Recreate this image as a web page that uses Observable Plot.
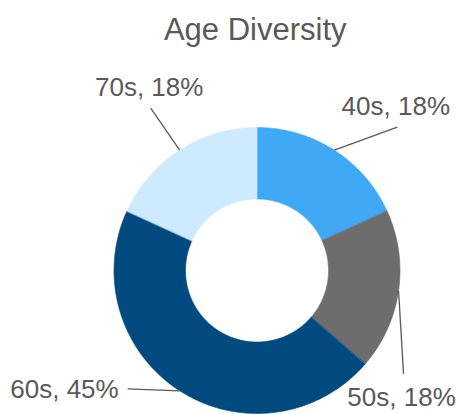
<!DOCTYPE html>
<html><head><meta charset="utf-8">
<script src="https://cdn.jsdelivr.net/npm/d3@7"></script>
<script src="https://cdn.jsdelivr.net/npm/@observablehq/plot@0.6"></script>
<style>html,body{margin:0;padding:0;background:#fff} svg{display:block}</style>
</head><body><div id="chart"></div>
<script>
// ---- data ----
const categories = ["40s", "50s", "60s", "70s"];
const counts = [2, 2, 5, 2];
const percentLabels = ["18%", "18%", "45%", "18%"];
const titleText = "Age Diversity";

// ---- styles / layout ----
const sliceColors = ["#3fa9f5", "#6d6d6d", "#004a80", "#cdeaff"];
const textColor = "#595959";
const W = 456, H = 414, cx = 256.5, cy = 270, R = 143, r0 = 71.5;
// leader line vector from slice mid-point on the outer rim, and label side
const leaderLayout = {
  "40s": {dx: 63, dy: -23, side: "top"},
  "50s": {dx: 5, dy: 83, side: "bottom"},
  "60s": {dx: -52, dy: -2, side: "left"},
  "70s": {dx: -29, dy: -42, side: "top"}
};

const arcs = d3.pie().sort(null).value(d => d)(counts);
const ring = [];
arcs.forEach((p, i) => {
  const n = 120;
  for (let k = 0; k <= n; k++) {
    const a = p.startAngle + (p.endAngle - p.startAngle) * k / n;
    ring.push({cat: categories[i], x: cx + R * Math.sin(a), y: cy - R * Math.cos(a)});
  }
  for (let k = n; k >= 0; k--) {
    const a = p.startAngle + (p.endAngle - p.startAngle) * k / n;
    ring.push({cat: categories[i], x: cx + r0 * Math.sin(a), y: cy - r0 * Math.cos(a)});
  }
});

const labels = arcs.map((p, i) => {
  const m = (p.startAngle + p.endAngle) / 2;
  const L = leaderLayout[categories[i]];
  const x1 = cx + R * Math.sin(m), y1 = cy - R * Math.cos(m);
  const x2 = x1 + L.dx, y2 = y1 + L.dy;
  let tx = x2, ty = y2;
  if (L.side === "top") { tx = x2 - 1.5; ty = y2 - 20.8; }
  else if (L.side === "bottom") { tx = x2 - 2; ty = y2 + 23.7; }
  else { tx = x2 - 9; ty = y2 + 0.7; }
  return {cat: categories[i], text: `${categories[i]}, ${percentLabels[i]}`, side: L.side, x1, y1, x2, y2, tx, ty};
});

const chart = Plot.plot({
  width: W, height: H, margin: 0,
  x: {type: "identity", axis: null},
  y: {type: "identity", axis: null},
  color: {domain: categories, range: sliceColors},
  style: {fontFamily: "'Liberation Sans', Arial, sans-serif", background: "white"},
  marks: [
    Plot.line(ring, {x: "x", y: "y", z: "cat", fill: "cat", stroke: "cat", strokeWidth: 0.6, curve: "linear-closed"}),
    Plot.link(labels, {x1: "x1", y1: "y1", x2: "x2", y2: "y2", stroke: textColor, strokeWidth: 1.3}),
    Plot.text(labels.filter(d => d.side !== "left"), {x: "tx", y: "ty", text: "text", fontSize: 26, fill: textColor, textAnchor: "middle"}),
    Plot.text(labels.filter(d => d.side === "left"), {x: "tx", y: "ty", text: "text", fontSize: 26, fill: textColor, textAnchor: "end"}),
    Plot.text([titleText], {frameAnchor: "top", dx: 26.7, dy: 17.3, lineAnchor: "top", fontSize: 31, fill: textColor})
  ]
});
document.getElementById("chart").appendChild(chart);
</script>
</body></html>
